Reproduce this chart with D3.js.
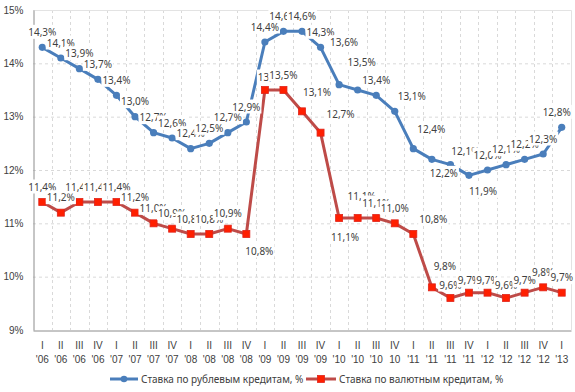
<!DOCTYPE html>
<html>
<head>
<meta charset="utf-8">
<script src="https://cdn.jsdelivr.net/npm/d3@7"></script>
<style>
  body { margin: 0; background: #fff; }
  svg { font-family: "Noto Sans", "DejaVu Sans", sans-serif; }
  .tick text, .lbl, .legend text { fill: #404040; }
</style>
</head>
<body>
<script>
// quarters I '06 .. I '13
var quarters = ["I","II","III","IV","I","II","III","IV","I","II","III","IV","I","II","III","IV",
                "I","II","III","IV","I","II","III","IV","I","II","III","IV","I"];
var years    = ["'06","'06","'06","'06","'07","'07","'07","'07","'08","'08","'08","'08","'09","'09","'09","'09",
                "'10","'10","'10","10","'11","'11","'11","'11","'12","'12","'12","'12","'13"];
var rubRate  = [14.3,14.1,13.9,13.7,13.4,13.0,12.7,12.6,12.4,12.5,12.7,12.9,14.4,14.6,14.6,14.3,
                13.6,13.5,13.4,13.1,12.4,12.2,12.1,11.9,12.0,12.1,12.2,12.3,12.8];
var fxRate   = [11.4,11.2,11.4,11.4,11.4,11.2,11.0,10.9,10.8,10.8,10.9,10.8,13.5,13.5,13.1,12.7,
                11.1,11.1,11.1,11.0,10.8,9.8,9.6,9.7,9.7,9.6,9.7,9.8,9.7];
var yTicks   = [9,10,11,12,13,14,15];
var seriesNames = ["Ставка по рублевым кредитам, %", "Ставка по валютным кредитам, %"];

var W = 575, H = 392;
var plot = {left: 33, right: 571, top: 10, bottom: 330};

var blue = "#4a7ebb", redLine = "#be4b48", redMark = "#ff1f00";

// label nudges (dx, dy) where the label was moved off the default "above" spot
var rubNudge = {16: [5,-42], 17: [4,-28], 19: [17,-15], 20: [18,-19], 21: [12,14],
                22: [15,-13], 23: [14,16], 28: [-5,-15]};
var fxNudge  = {11: [13,17], 12: [7,-13], 14: [15,-19], 15: [20,-18], 16: [6,19],
                17: [4,-22], 20: [20,-15], 21: [13,-21], 22: [0,-13], 23: [0,-12],
                24: [0,-12], 25: [0,-13], 26: [0,-12]};

var idx = d3.range(quarters.length);

var xScale = d3.scaleBand()
    .domain(idx)
    .range([plot.left, plot.right]);
var bw = xScale.bandwidth();
function cx(i) { return xScale(i) + bw / 2; }

var yScale = d3.scaleLinear()
    .domain([9, 15])
    .range([plot.bottom, plot.top]);

var svg = d3.select("body").append("svg")
    .attr("width", W)
    .attr("height", H);

// grid
var grid = svg.append("g").attr("stroke", "#d9d9d9").attr("stroke-dasharray", "3,3");
grid.selectAll(".hg")
    .data(yTicks.slice(1, -1))
    .enter().append("line")
    .attr("x1", plot.left).attr("x2", plot.right)
    .attr("y1", function(d) { return yScale(d) + 0.5; })
    .attr("y2", function(d) { return yScale(d) + 0.5; });
grid.selectAll(".vg")
    .data(idx.slice(1))
    .enter().append("line")
    .attr("x1", function(d) { return Math.round(xScale(d)) + 0.5; })
    .attr("x2", function(d) { return Math.round(xScale(d)) + 0.5; })
    .attr("y1", plot.top).attr("y2", plot.bottom);

// plot border (top / right)
svg.append("path")
    .attr("d", "M" + plot.left + "," + (plot.top + 0.5) + "H" + (plot.right + 0.5) + "V" + plot.bottom)
    .attr("fill", "none")
    .attr("stroke", "#e3e3e3");

// y axis
svg.append("g")
    .attr("transform", "translate(" + (plot.left + 0.5) + ",0)")
    .call(d3.axisLeft(yScale).tickValues(yTicks).tickSize(0).tickPadding(10)
          .tickFormat(function(d) { return d + "%"; }))
    .call(function(g) {
      g.select(".domain").attr("stroke", "#8c8c8c");
      g.selectAll("text").attr("font-size", 10).attr("font-family", null);
    });

// x axis
var xAxis = svg.append("g")
    .attr("transform", "translate(0," + (plot.bottom + 0.5) + ")")
    .call(d3.axisBottom(xScale).tickSize(0).tickFormat(""));
xAxis.select(".domain").attr("stroke", "#8c8c8c");
xAxis.selectAll(".tick text").remove();
xAxis.selectAll(".tick").append("text")
    .attr("font-size", 10)
    .attr("text-anchor", "middle")
    .each(function(d) {
      var t = d3.select(this);
      t.append("tspan").attr("x", 0).attr("y", 18).text(quarters[d]);
      t.append("tspan").attr("x", 0).attr("y", 32).text(years[d]);
    });

// lines
var line = function(vals) {
  return d3.line()
    .x(function(i) { return cx(i); })
    .y(function(i) { return yScale(vals[i]); })(idx);
};

svg.append("path")
    .attr("d", line(rubRate))
    .attr("fill", "none")
    .attr("stroke", blue)
    .attr("stroke-width", 3)
    .attr("stroke-linejoin", "round");

svg.selectAll(".rubdot")
    .data(idx).enter()
    .append("circle")
    .attr("cx", function(i) { return cx(i); })
    .attr("cy", function(i) { return yScale(rubRate[i]); })
    .attr("r", 3.6)
    .attr("fill", blue);

svg.append("path")
    .attr("d", line(fxRate))
    .attr("fill", "none")
    .attr("stroke", redLine)
    .attr("stroke-width", 3)
    .attr("stroke-linejoin", "round");

svg.selectAll(".fxdot")
    .data(idx).enter()
    .append("rect")
    .attr("x", function(i) { return cx(i) - 3.5; })
    .attr("y", function(i) { return yScale(fxRate[i]) - 3.5; })
    .attr("width", 7).attr("height", 7)
    .attr("fill", redMark)
    .attr("stroke", "#e0241a")
    .attr("stroke-width", 0.8);

// data labels with white boxes, later ones cover earlier ones
var fmt = function(v) { return d3.format(".1f")(v).replace(".", ",") + "%"; };

function addLabels(vals, nudge) {
  idx.forEach(function(i) {
    var n = nudge[i] || [0, -15];
    var g = svg.append("g")
        .attr("transform", "translate(" + (cx(i) + n[0]) + "," + (yScale(vals[i]) + n[1]) + ")");
    var rect = g.append("rect").attr("fill", "#fff");
    var t = g.append("text")
        .attr("class", "lbl")
        .attr("font-size", 10)
        .attr("text-anchor", "middle")
        .attr("dy", "0.35em")
        .text(fmt(vals[i]));
    var bb = t.node().getBBox();
    rect.attr("x", bb.x - 1).attr("y", bb.y)
        .attr("width", bb.width + 2).attr("height", bb.height);
  });
}
addLabels(rubRate, rubNudge);
addLabels(fxRate, fxNudge);

// legend
var legend = svg.append("g").attr("class", "legend").attr("font-size", 10);
var lg1 = legend.append("g").attr("transform", "translate(110,379)");
lg1.append("line").attr("x1", 0).attr("x2", 28).attr("stroke", blue).attr("stroke-width", 3);
lg1.append("circle").attr("cx", 14).attr("r", 3.3).attr("fill", blue);
lg1.append("text").attr("x", 31).attr("dy", "0.35em").text(seriesNames[0]);

var lg2 = legend.append("g").attr("transform", "translate(306,379)");
lg2.append("line").attr("x1", 0).attr("x2", 30).attr("stroke", redLine).attr("stroke-width", 3);
lg2.append("rect").attr("x", 11.5).attr("y", -3.5).attr("width", 7).attr("height", 7)
    .attr("fill", redMark).attr("stroke", "#e0241a").attr("stroke-width", 0.8);
lg2.append("text").attr("x", 33).attr("dy", "0.35em").text(seriesNames[1]);
</script>
</body>
</html>
